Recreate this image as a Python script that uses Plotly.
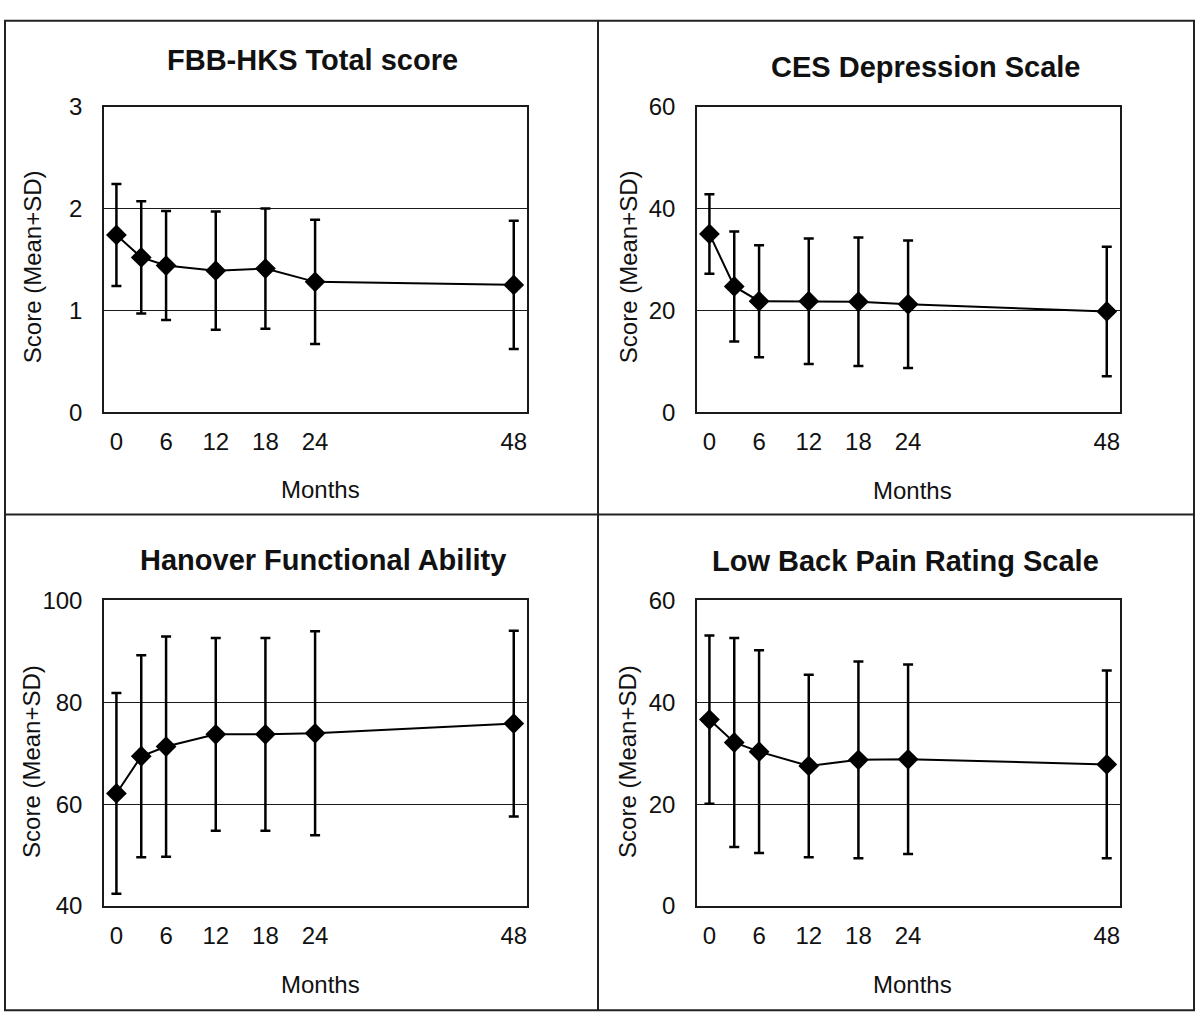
import plotly.graph_objects as go

# ---------------- data ----------------
months = [0, 3, 6, 12, 18, 24, 48]
tick_months = [0, 6, 12, 18, 24, 48]

panel_titles = ["FBB-HKS Total score", "CES Depression Scale",
                "Hanover Functional Ability", "Low Back Pain Rating Scale"]

fbb_mean = [1.74, 1.52, 1.44, 1.39, 1.41, 1.28, 1.25]
fbb_sd = [0.50, 0.55, 0.535, 0.58, 0.59, 0.61, 0.63]

ces_mean = [35.0, 24.7, 21.8, 21.8, 21.7, 21.2, 19.8]
ces_sd = [7.8, 10.8, 11.0, 12.3, 12.6, 12.5, 12.7]

han_mean = [62.1, 69.4, 71.3, 73.7, 73.7, 73.9, 75.8]
han_sd = [19.7, 19.8, 21.6, 18.9, 18.9, 20.0, 18.2]

lbp_mean = [36.6, 32.1, 30.3, 27.5, 28.7, 28.8, 27.8]
lbp_sd = [16.5, 20.5, 19.9, 17.9, 19.3, 18.6, 18.4]

y_ranges = [[0, 3], [0, 60], [40, 100], [0, 60]]
y_dticks = [1, 20, 20, 20]

y_title = "Score (Mean+SD)"
x_title = "Months"

means = [fbb_mean, ces_mean, han_mean, lbp_mean]
sds = [fbb_sd, ces_sd, han_sd, lbp_sd]

# ---------------- layout geometry (page pixels) ----------------
W, H = 1200, 1034


def px(x):
    return x / W


def py(y):
    return 1 - y / H


plot_boxes = [  # left, right, top, bottom (page px)
    (104, 527, 95, 409),
    (697, 1120, 95, 409),
    (104, 527, 602, 916),
    (697, 1120, 602, 916),
]
title_pos = [(313, 47), (925, 54), (323, 561), (905, 562)]
months_pos = [(320, 488), (912, 489), (320, 997), (912, 997)]
ytitle_pos = [(32, 260), (628, 260), (32, 768), (628, 768)]

FONT = "Liberation Sans, Arial, Helvetica, sans-serif"
INK = "#111111"

fig = go.Figure()
layout = dict(
    width=W, height=H,
    margin=dict(l=0, r=0, t=0, b=0),
    paper_bgcolor="white", plot_bgcolor="white",
    showlegend=False,
    font=dict(family=FONT, color=INK),
)

annotations = []
shapes = []

for i in range(4):
    n = "" if i == 0 else str(i + 1)
    l, r, t, b = plot_boxes[i]
    fig.add_trace(go.Scatter(
        x=months, y=means[i],
        mode="lines+markers",
        line=dict(color="black", width=2),
        marker=dict(symbol="diamond", size=16, color="black"),
        error_y=dict(type="data", array=sds[i], visible=True,
                     color="black", thickness=2.5, width=5),
        xaxis="x" + n, yaxis="y" + n,
        cliponaxis=False,
    ))
    layout["xaxis" + n] = dict(
        domain=[px(l), px(r)], anchor="y" + n,
        range=[-1.5, 49.6], tickmode="array", tickvals=tick_months,
        ticktext=[str(v) for v in tick_months],
        showgrid=False, zeroline=False,
        showline=True, mirror=True, linecolor="#1a1a1a", linewidth=1.5,
        ticks="outside", ticklen=7, tickcolor="rgba(0,0,0,0)",
        tickfont=dict(size=24, family=FONT, color=INK),
    )
    layout["yaxis" + n] = dict(
        domain=[py(b), py(t)], anchor="x" + n,
        range=y_ranges[i], dtick=y_dticks[i], tick0=y_ranges[i][0],
        showgrid=True, gridcolor="#1a1a1a", gridwidth=1.2, zeroline=False,
        showline=True, mirror=True, linecolor="#1a1a1a", linewidth=1.5,
        ticks="outside", ticklen=15, tickcolor="rgba(0,0,0,0)",
        tickfont=dict(size=24, family=FONT, color=INK),
    )
    tx, ty = title_pos[i]
    annotations.append(dict(
        text="<b>" + panel_titles[i] + "</b>", x=px(tx), y=py(ty),
        xref="paper", yref="paper", xanchor="center", yanchor="middle",
        showarrow=False, font=dict(size=29, family=FONT, color=INK)))
    mx, my = months_pos[i]
    annotations.append(dict(
        text=x_title, x=px(mx), y=py(my),
        xref="paper", yref="paper", xanchor="center", yanchor="middle",
        showarrow=False, font=dict(size=24, family=FONT, color=INK)))
    yx, yy = ytitle_pos[i]
    annotations.append(dict(
        text=y_title, x=px(yx), y=py(yy), textangle=-90,
        xref="paper", yref="paper", xanchor="center", yanchor="middle",
        showarrow=False, font=dict(size=24, family=FONT, color=INK)))

# outer frame and dividers
frame = dict(type="line", xref="paper", yref="paper",
             line=dict(color="#222", width=2))
shapes.append(dict(type="rect", xref="paper", yref="paper",
                   x0=px(5), x1=px(1194), y0=py(1023), y1=py(7),
                   line=dict(color="#222", width=2)))
shapes.append(dict(frame, x0=px(598), x1=px(598), y0=py(1023), y1=py(7)))
shapes.append(dict(frame, x0=px(5), x1=px(1194), y0=py(514), y1=py(514)))

layout["annotations"] = annotations
layout["shapes"] = shapes
fig.update_layout(**layout)

# remove the default page margin so the figure sits at the window origin
fig.write_html(
    "out.html",
    config={"displayModeBar": False},
    post_script="document.documentElement.style.margin='0';"
                "document.body.style.margin='0';"
                "document.body.style.overflow='hidden';",
)
